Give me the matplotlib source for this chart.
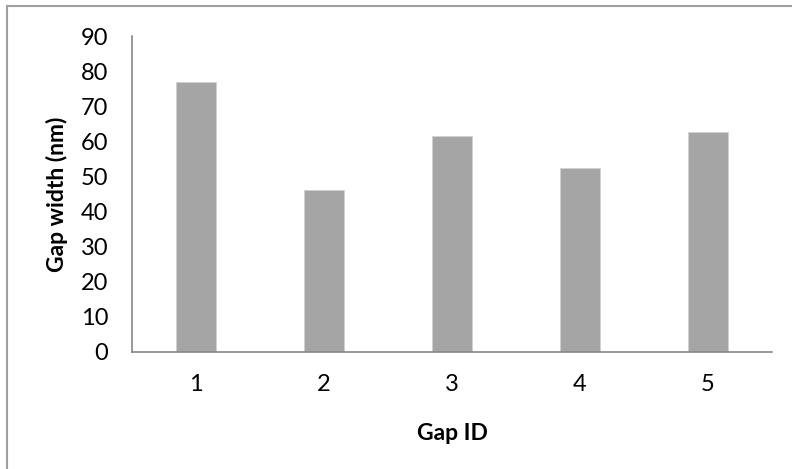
import matplotlib
matplotlib.use("Agg")
import matplotlib.pyplot as plt
from matplotlib.patches import Rectangle

# dados do grafico
gap_ids = ["1", "2", "3", "4", "5"]
gap_widths = [76.8, 46.1, 61.5, 52.3, 62.6]
y_ticks = [0, 10, 20, 30, 40, 50, 60, 70, 80, 90]

plt.rcParams['font.family'] = ['Lato', 'DejaVu Sans']

fig = plt.figure(figsize=(7.92, 4.69), dpi=100)
ax = fig.add_axes([0.1667, 0.2495, 0.808, 0.6737])

pos = list(range(len(gap_ids)))
ax.bar(pos, gap_widths, width=0.3125, color='#a5a5a5', edgecolor='#d0d0d0', linewidth=0.6)

ax.set_xlim(-0.5, len(gap_ids) - 0.5)
ax.set_ylim(0, 90)
ax.set_yticks(y_ticks)
ax.set_xticks(pos)
ax.set_xticklabels(gap_ids)
ax.tick_params(axis='both', length=0, labelsize=17, colors='black')
ax.tick_params(axis='y', pad=17)
ax.tick_params(axis='x', pad=16)

for s in ['top', 'right']:
    ax.spines[s].set_visible(False)
for s in ['left', 'bottom']:
    ax.spines[s].set_color('#868686')
    ax.spines[s].set_linewidth(1.2)

ax.set_ylabel('Gap width (nm)', fontsize=16.5, fontweight='bold', labelpad=9)
ax.set_xlabel('Gap ID', fontsize=16.5, fontweight='bold', labelpad=20)

# borda externa do grafico (cortada a direita e embaixo)
fig.add_artist(Rectangle((6.5 / 792, -0.1), 1.2, 1 - 6.5 / 469 + 0.1, transform=fig.transFigure,
                         fill=False, edgecolor='#a0a0a0', linewidth=1.5))

fig.savefig('out.png', dpi=100)
